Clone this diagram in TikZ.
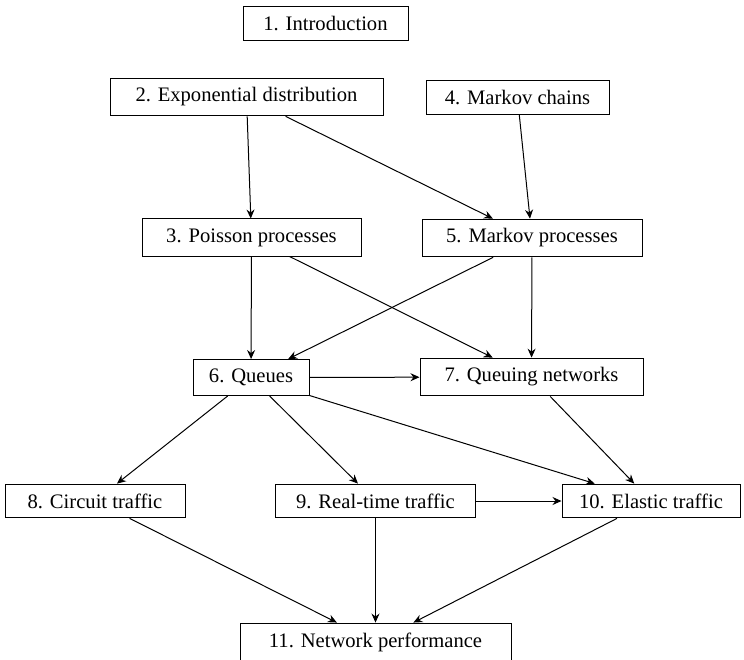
\documentclass[tikz,border=0pt]{standalone}
\usepackage{fontspec}
\setmainfont{Liberation Serif}
\usetikzlibrary{arrows.meta}

\begin{document}
\begin{tikzpicture}[x=1pt,y=-1pt, line width=1pt, >={Stealth[length=9pt,width=8pt,inset=3pt]}, chbox/.style={draw,line width=1pt,inner xsep=0pt,inner ysep=9.5pt,font=\fontsize{20.6}{24}\selectfont}]
            \useasboundingbox (0,0) rectangle (744,659);
            \node[chbox,minimum width=165pt] (c1) at (325.5,23.5) {1. Introduction};
            \node[chbox,minimum width=273pt] (c2) at (246.5,97) {2. Exponential distribution};
            \node[chbox,minimum width=183pt] (c4) at (517.5,97.5) {4. Markov chains};
            \node[chbox,minimum width=219pt] (c3) at (251.5,237.5) {3. Poisson processes};
            \node[chbox,minimum width=220pt] (c5) at (532,238) {5. Markov processes};
            \node[chbox,minimum width=116pt] (c6) at (251,377.5) {6. Queues};
            \node[chbox,minimum width=223pt] (c7) at (531.5,377) {7. Queuing networks};
            \node[chbox,minimum width=180pt] (c8) at (95,501) {8. Circuit traffic};
            \node[chbox,minimum width=200pt] (c9) at (375.5,501) {9. Real-time traffic};
            \node[chbox,minimum width=178pt] (c10) at (651,501) {10. Elastic traffic};
            \node[chbox,minimum width=271pt] (c11) at (375.5,642) {11. Network performance};

            \draw[->] (c2)--(c3);
            \draw[->] (c2)--(c5);
            \draw[->] (c4)--(c5);
            \draw[->] (c3)--(c6);
            \draw[->] (c3)--(c7);
            \draw[->] (c5)--(c6);
            \draw[->] (c5)--(c7);
            \draw[->] (c6)--(c7);
            \draw[->] (c6)--(c8);
            \draw[->] (c6)--(c9);
            \draw[->] (c6)--(c10);
            \draw[->] (c7)--(c10);
            \draw[->] (c9)--(c10);
            \draw[->] (c8)--(c11);
            \draw[->] (c9)--(c11);
            \draw[->] (c10)--(c11);
        \end{tikzpicture}
\end{document}
